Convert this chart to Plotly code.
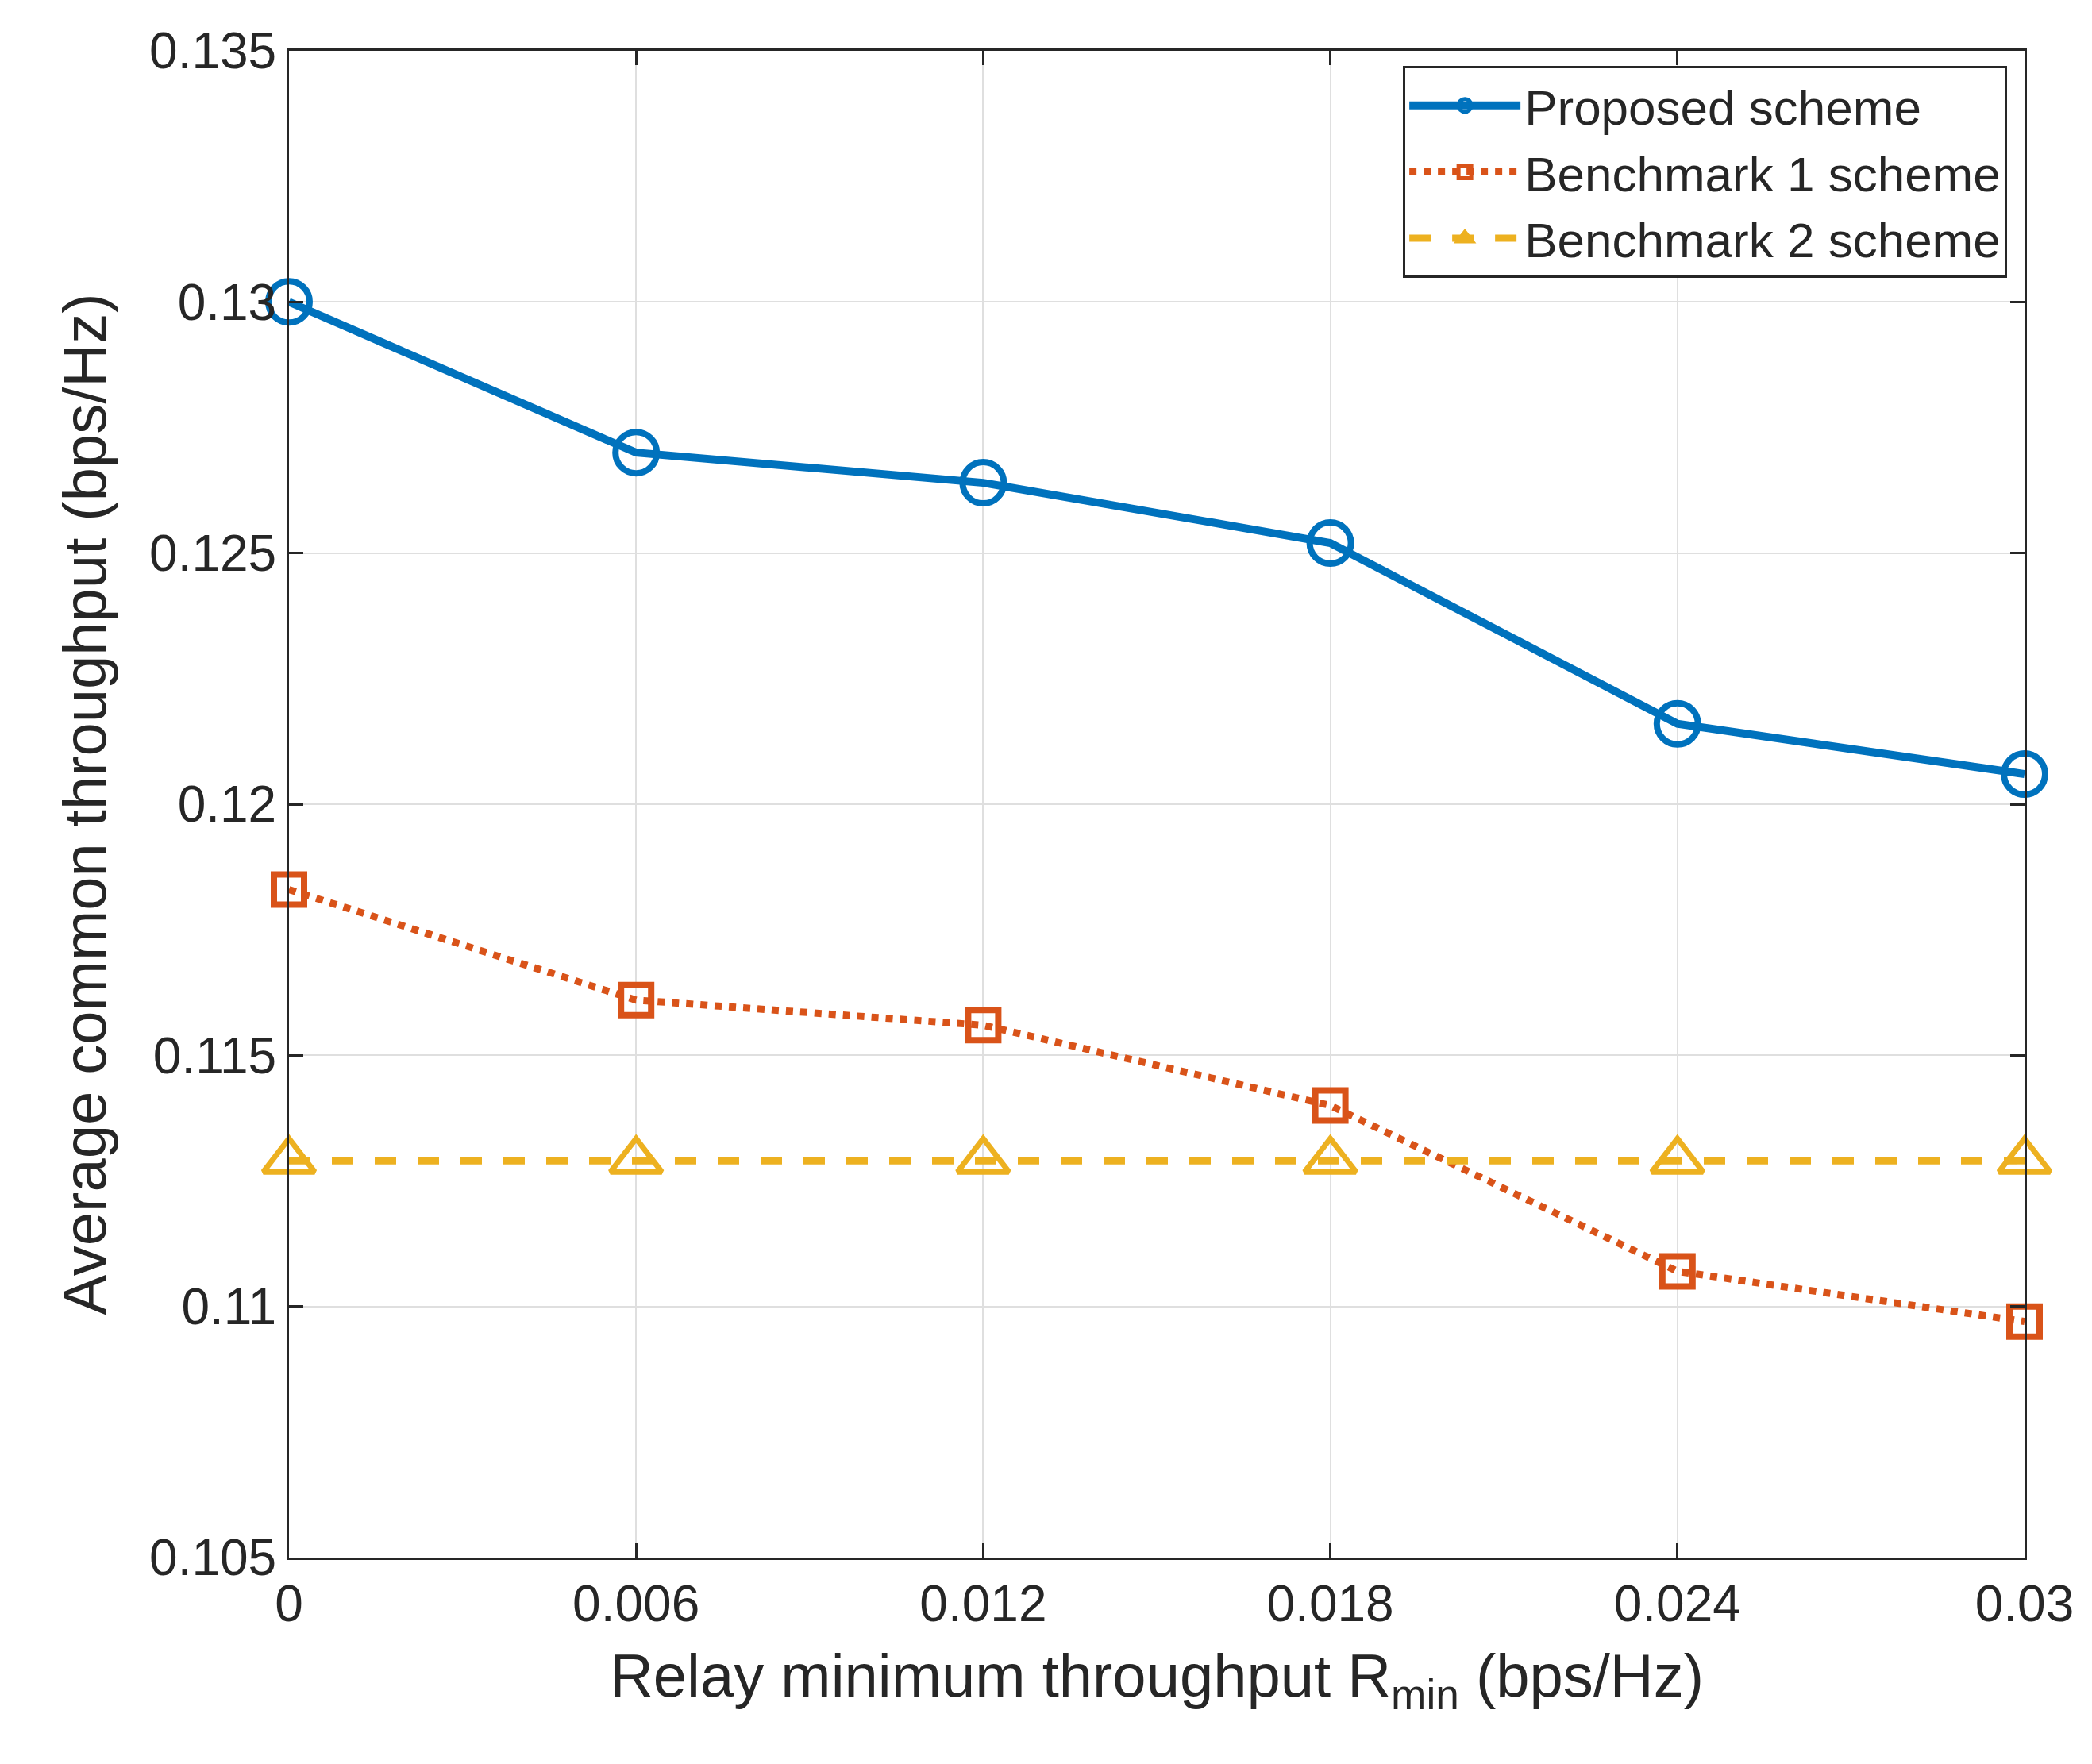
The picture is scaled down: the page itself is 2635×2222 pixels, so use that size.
import plotly.graph_objects as go

x = [0, 0.006, 0.012, 0.018, 0.024, 0.03]
proposed = [0.1300, 0.1270, 0.1264, 0.1252, 0.1216, 0.1206]
bench1 = [0.1183, 0.1161, 0.1156, 0.1140, 0.1107, 0.1097]
bench2 = [0.1129] * 6
xticks = [0, 0.006, 0.012, 0.018, 0.024, 0.03]
xticklabels = ["0", "0.006", "0.012", "0.018", "0.024", "0.03"]
yticks = [0.105, 0.11, 0.115, 0.12, 0.125, 0.13, 0.135]
yticklabels = ["0.105", "0.11", "0.115", "0.12", "0.125", "0.13", "0.135"]

fig = go.Figure()
fig.add_trace(go.Scatter(x=x, y=proposed, name="Proposed scheme", mode="lines+markers",
    line=dict(color="#0072BD", width=10), cliponaxis=False,
    marker=dict(symbol="circle-open", size=52, color="#0072BD", line=dict(width=8))))
fig.add_trace(go.Scatter(x=x, y=bench1, name="Benchmark 1 scheme", mode="lines+markers",
    line=dict(color="#D95319", width=9, dash="dot"), cliponaxis=False,
    marker=dict(symbol="square-open", size=38, color="#D95319", line=dict(width=8))))
fig.add_trace(go.Scatter(x=x, y=bench2, name="Benchmark 2 scheme", mode="lines+markers",
    line=dict(color="#EDB120", width=9, dash="dash"), cliponaxis=False,
    marker=dict(symbol="triangle-up-open", size=56, color="#EDB120", line=dict(width=7))))

ax = dict(showline=True, linecolor="#262626", linewidth=3, mirror="ticks", ticks="inside",
          ticklen=18, tickwidth=3, tickcolor="#262626", showgrid=True, gridcolor="#DFDFDF",
          gridwidth=2, zeroline=False, tickfont=dict(size=64, color="#262626"))
fig.update_xaxes(**ax, range=[0, 0.03], tickvals=xticks, ticktext=xticklabels,
    title=dict(text="Relay minimum throughput R<sub>min</sub> (bps/Hz)", font=dict(size=76, color="#262626"), standoff=30))
fig.update_yaxes(**ax, range=[0.105, 0.135], tickvals=yticks, ticktext=yticklabels,
    title=dict(text="Average common throughput (bps/Hz)", font=dict(size=76, color="#262626"), standoff=30))
fig.update_layout(width=2635, height=2222, plot_bgcolor="white", paper_bgcolor="white",
    font=dict(family="Liberation Sans, Arial", color="#262626"),
    margin=dict(l=356, r=93, t=56, b=268),
    legend=dict(x=0.99, y=0.99, xanchor="right", yanchor="top", bgcolor="white",
        bordercolor="#262626", borderwidth=3, font=dict(size=62), itemwidth=140))
fig.write_html("out.html")
